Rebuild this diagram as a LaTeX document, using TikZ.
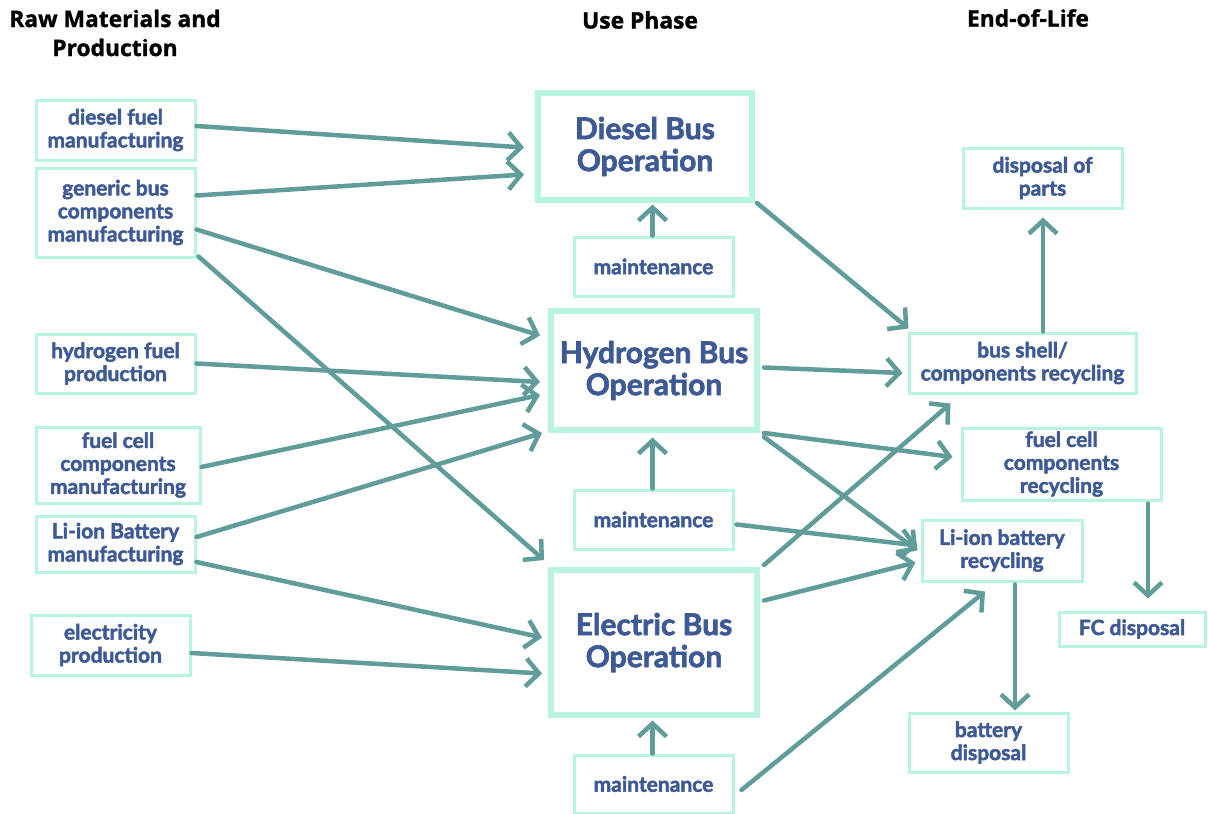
\documentclass[tikz,border=0pt]{standalone}
\usepackage{fontspec}
\setmainfont{Lato}
\newfontfamily\boxfont{Lato}[BoldFeatures={FakeBold=2.2}]
\newfontfamily\headfont{Open Sans}[BoldFeatures={FakeBold=1.2}]
\usetikzlibrary{arrows.meta,calc}
\definecolor{inkblue}{HTML}{3E5A96}
\definecolor{mint}{HTML}{B8F4DE}
\definecolor{flowteal}{HTML}{5F9C9A}
\tikzset{
  box/.style={draw=mint, line width=3pt, fill=white, align=center, text=inkblue,
    font=\boxfont\bfseries\fontsize{21}{23}\selectfont, inner sep=0pt},
  bigbox/.style={box, line width=6pt, font=\boxfont\bfseries\fontsize{30}{32}\selectfont},
  head/.style={align=center, font=\headfont\bfseries\fontsize{22.8}{29}\selectfont, text=black},
  flow/.style={draw=flowteal, line width=4.5pt, line cap=round,
    -{Straight Barb[length=13pt,width=28pt]}}
}
\begin{document}
\begin{tikzpicture}[x=1pt,y=-1pt]
\fill[white] (0,0) rectangle (1208,814);
\useasboundingbox (0,0) rectangle (1208,814);

% column headings
\node[head] (hraw) at (115,33) {Raw Materials and\\Production};
\node[head] (huse) at (640,20) {Use Phase};
\node[head] (heol) at (1028,18) {End-of-Life};

% raw materials and production
\node[box, minimum width=159pt, minimum height=60pt] (dfm) at (115.5,130) {diesel fuel\\manufacturing};
\node[box, minimum width=159pt, minimum height=89pt] (gbc) at (115.5,212.5) {generic bus\\components\\manufacturing};
\node[box, minimum width=159pt, minimum height=59pt] (hfp) at (115.5,363.5) {hydrogen fuel\\production};
\node[box, minimum width=164pt, minimum height=76pt] (fcc) at (118,465) {fuel cell\\components\\manufacturing};
\node[box, minimum width=159pt, minimum height=56pt] (lib) at (115.5,544) {Li-ion Battery\\manufacturing};
\node[box, minimum width=159pt, minimum height=60pt] (elp) at (110.5,645) {electricity\\production};

% use phase
\node[bigbox, minimum width=214pt, minimum height=107pt] (dbo) at (645,146.5) {Diesel Bus\\Operation};
\node[box, minimum width=159pt, minimum height=59pt] (mta) at (653.5,266.5) {maintenance};
\node[bigbox, minimum width=206pt, minimum height=119pt] (hbo) at (654,370.5) {Hydrogen Bus\\Operation};
\node[box, minimum width=159pt, minimum height=59pt] (mtb) at (653.5,519.5) {maintenance};
\node[bigbox, minimum width=206pt, minimum height=145pt] (ebo) at (654,642.5) {Electric Bus\\Operation};
\node[box, minimum width=159pt, minimum height=58pt] (mtc) at (653.5,784) {maintenance};

% end of life
\node[box, minimum width=159pt, minimum height=60pt] (dop) at (1042.5,178) {disposal of\\parts};
\node[box, minimum width=227pt, minimum height=60pt] (bsr) at (1022.5,363) {bus shell/\\components recycling};
\node[box, minimum width=199pt, minimum height=72pt] (fcr) at (1061.5,464) {fuel cell\\components\\recycling};
\node[box, minimum width=160pt, minimum height=61pt] (lir) at (1002,550.5) {Li-ion battery\\recycling};
\node[box, minimum width=146pt, minimum height=34pt] (fcd) at (1132,629) {FC disposal};
\node[box, minimum width=159pt, minimum height=59pt] (bdp) at (988.5,742.5) {battery\\disposal};

% inputs into the operation phases
\draw[flow] ($(dfm.east)+(0,-4)$) -- ($(dbo.west)+(-11,1)$);
\draw[flow] ($(gbc.east)+(0,-17)$) -- ($(dbo.west)+(-11,28)$);
\draw[flow] ($(gbc.east)+(0,17)$) -- ($(hbo.west)+(-8,-35)$);
\draw[flow] ($(gbc.south east)+(2,-2)$) -- ($(ebo.north west)+(-4,-7)$);
\draw[flow] (hfp.east) -- ($(hbo.west)+(-8,11.5)$);
\draw[flow] ($(fcc.east)+(0,2)$) -- ($(hbo.west)+(-8,24.5)$);
\draw[flow] ($(lib.east)+(0,-7)$) -- ($(hbo.south west)+(-6,0)$);
\draw[flow] ($(lib.east)+(0,18)$) -- ($(ebo.west)+(-6,-5)$);
\draw[flow] ($(elp.east)+(0,8)$) -- ($(ebo.west)+(-6,31)$);

% maintenance
\draw[flow] ($(mta.north)+(-1,0)$) -- ($(mta.north -| dbo.south)+(7.5,-31)$);
\draw[flow] ($(mtb.north)+(-1,0)$) -- ($(mtb.north)+(-1,-51)$);
\draw[flow] ($(mtc.north)+(-1,0)$) -- ($(mtc.north)+(-1,-33)$);

% flows into end of life
\draw[flow] ($(dbo.south east)+(2,0)$) -- ($(bsr.north west)+(1,-3)$);
\draw[flow] ($(hbo.east)+(4,-3)$) -- ($(bsr.west)+(-5,10)$);
\draw[flow] ($(hbo.south east)+(4,0)$) -- ($(fcr.west)+(-8,-7)$);
\draw[flow] ($(hbo.south east)+(4,4)$) -- ($(lir.west)+(-3,0)$);
\draw[flow] ($(mtb.east)+(2,5)$) -- ($(lir.west)+(-3,-5)$);
\draw[flow] ($(ebo.north east)+(4,-2)$) -- ($(bsr.south)+(-72,9)$);
\draw[flow] ($(ebo.east)+(4,-42)$) -- ($(lir.west)+(-5,12)$);
\draw[flow] ($(mtc.east)+(7,6)$) -- ($(lir.south)+(-17,9)$);

% disposal
\draw[flow] ($(bsr.north)+(20.5,0)$) -- ($(dop.south)+(0.5,8)$);
\draw[flow] ($(fcr.south)+(86.5,2)$) -- ($(fcd.north)+(16,-12)$);
\draw[flow] ($(lir.south)+(13,2)$) -- ($(bdp.north)+(26.5,-1)$);
\end{tikzpicture}
\end{document}
